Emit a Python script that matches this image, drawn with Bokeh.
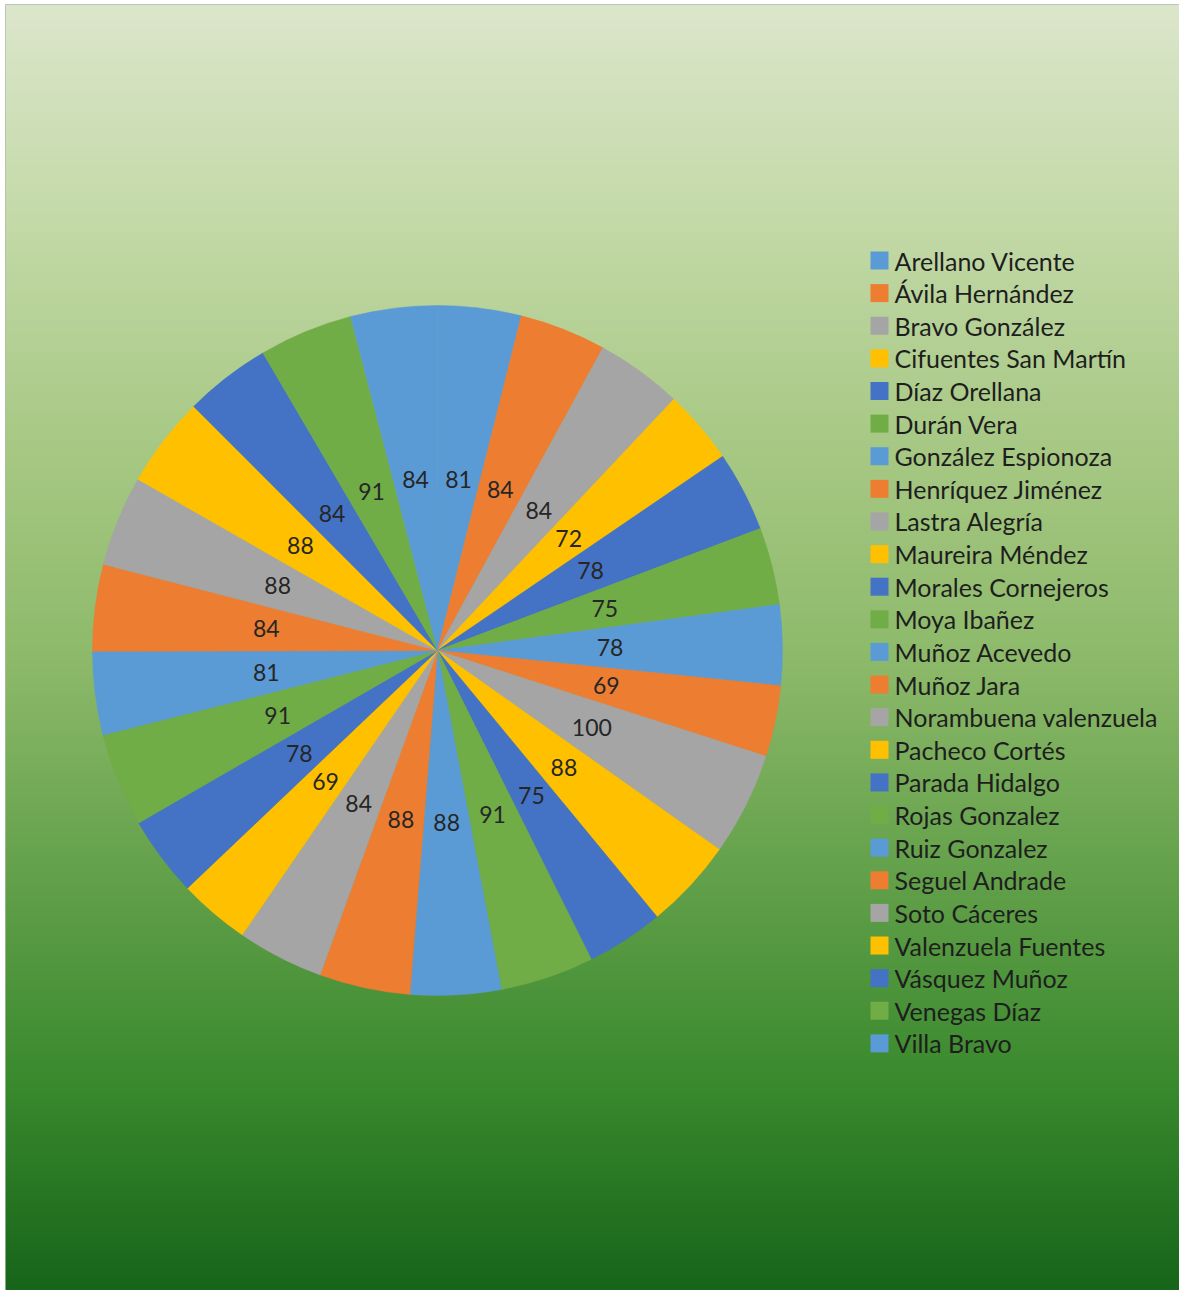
import numpy as np
from bokeh.plotting import figure
from bokeh.models import Range1d, ColumnDataSource
from bokeh.core.properties import value
from bokeh.embed import file_html
from bokeh.resources import INLINE

# ---------------- data ----------------
names = ["Arellano Vicente", "Ávila Hernández", "Bravo González", "Cifuentes San Martín",
         "Díaz Orellana", "Durán Vera", "González Espionoza", "Henríquez Jiménez",
         "Lastra Alegría", "Maureira Méndez", "Morales Cornejeros", "Moya Ibañez",
         "Muñoz Acevedo", "Muñoz  Jara", "Norambuena valenzuela", "Pacheco Cortés",
         "Parada Hidalgo", "Rojas Gonzalez", "Ruiz Gonzalez", "Seguel Andrade",
         "Soto Cáceres", "Valenzuela Fuentes", "Vásquez Muñoz", "Venegas Díaz", "Villa Bravo"]
scores = [81, 84, 84, 72, 78, 75, 78, 69, 100, 88, 75, 91, 88, 88, 84, 69, 78, 91,
          81, 84, 88, 88, 84, 91, 84]
palette = ["#5B9BD5", "#ED7D31", "#A5A5A5", "#FFC000", "#4472C4", "#70AD47"]

# ---------------- layout ----------------
FW, FH = 1174, 1286           # frame size
LB, TB = 5, 4                 # white borders left / top
CX, CY_TOP, R = 432, 646, 345
CY = FH - CY_TOP
LEG_X, LEG_TOP, LEG_PITCH, SQ = 874, 256, 32.62, 18
TEXT_X = 889

p = figure(width=FW + LB, height=FH + TB, x_range=Range1d(0, FW), y_range=Range1d(0, FH),
           output_backend="svg", toolbar_location=None,
           min_border_left=LB, min_border_top=TB, min_border_right=0, min_border_bottom=0,
           x_axis_location=None, y_axis_location=None)
p.grid.visible = False
p.outline_line_color = "#b3bcaa"
p.outline_line_width = 1
p.background_fill_color = "#8cb96a"
p.border_fill_color = "white"

# ---------------- gradient background ----------------
stops_y = np.array([0, 196, 436, 656, 876, 1076, 1286], dtype=float)
stops_c = np.array([(220, 230, 204), (198, 219, 171), (168, 201, 133), (141, 186, 106),
                    (98, 160, 74), (58, 138, 46), (23, 101, 26)], dtype=float)
rows = np.arange(FH)
ytop = FH - 1 - rows  # row 0 = bottom of plot
img = np.zeros((FH, 2), dtype=np.uint32)
view = img.view(dtype=np.uint8).reshape((FH, 2, 4))
for k in range(3):
    ch = np.interp(ytop, stops_y, stops_c[:, k]).astype(np.uint8)
    view[:, :, k] = ch[:, None]
view[:, :, 3] = 255
p.image_rgba(image=[img], x=0, y=0, dw=FW, dh=FH)

# ---------------- pie ----------------
vals = np.array(scores, dtype=float)
frac = vals / vals.sum()
cum = np.concatenate([[0], np.cumsum(frac)])
start = np.pi / 2 - 2 * np.pi * cum[:-1]
end = np.pi / 2 - 2 * np.pi * cum[1:]
cols = [palette[i % len(palette)] for i in range(len(scores))]
mid = (start + end) / 2

src = ColumnDataSource(dict(name=names, score=scores, start=start, end=end, color=cols,
                            lx=CX + 0.5 * R * np.cos(mid), ly=CY + 0.5 * R * np.sin(mid),
                            txt=[str(s) for s in scores]))
p.wedge(x=CX, y=CY, radius=R, start_angle="start", end_angle="end", direction="clock",
        fill_color="color", line_color="color", line_width=0.5, source=src)
p.text(x="lx", y="ly", text="txt", source=src, text_align="center", text_baseline="middle",
       text_font=value("Lato"), text_font_size="23px", text_color="#262626")

# ---------------- legend ----------------
idx = np.arange(len(names))
leg = ColumnDataSource(dict(x=np.full(len(names), LEG_X), tx=np.full(len(names), TEXT_X),
                            y=FH - (LEG_TOP + idx * LEG_PITCH), name=names, color=cols))
p.rect(x="x", y="y", width=SQ, height=SQ, fill_color="color", line_color=None, source=leg)
p.text(x="tx", y="y", text="name", source=leg, text_align="left", text_baseline="middle",
       text_font=value("Lato"), text_font_size="25px", text_color="#1e1e1e")

open("out.html", "w").write(file_html(p, INLINE))
